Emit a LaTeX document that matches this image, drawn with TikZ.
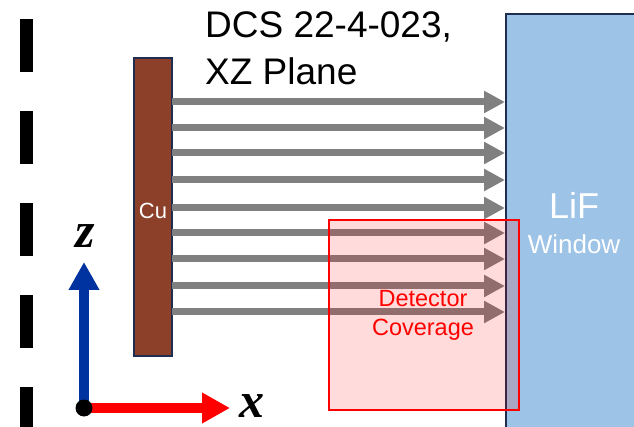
\documentclass[tikz,border=0pt]{standalone}
\usepackage{fontspec}
\setmainfont{Liberation Sans}
\newfontfamily\axfont{Liberation Serif}
\usetikzlibrary{arrows.meta}
\definecolor{cubrown}{RGB}{140,64,42}
\definecolor{navy}{RGB}{30,45,80}
\definecolor{lifblue}{RGB}{157,195,230}
\definecolor{raygray}{RGB}{128,128,128}
\definecolor{zblue}{RGB}{0,51,160}
\tikzset{
  ray/.style={draw=raygray, line width=7pt, -{Triangle[length=21pt,width=21pt]}},
  block/.style={draw=navy, line width=1.2pt, inner sep=0pt, outer sep=0pt},
  axisarrow/.style={line width=9.5pt, -{Triangle[length=28pt,width=29pt]}},
  axlabel/.style={font=\axfont\bfseries\itshape\fontsize{50}{50}\selectfont, inner sep=0pt},
}
\begin{document}
\begin{tikzpicture}[x=1pt,y=-1pt]
\useasboundingbox (0,0) rectangle (634,427);
\fill[white] (0,0) rectangle (634,427);
% dashed axis line
\draw[line width=13pt, dash pattern=on 53pt off 39pt] (26.5,19) -- (26.5,440);
% LiF window
\node[block, fill=lifblue, minimum width=134pt, minimum height=420pt, anchor=north west] (lif) at (506,14) {};
\node[text=white, font=\fontsize{36}{36}\selectfont] (liftxt) at (574,205) {LiF};
\node[text=white, font=\fontsize{26}{26}\selectfont] (wintxt) at (574,244) {Window};
% Cu block
\node[block, fill=cubrown, minimum width=38pt, minimum height=298pt, anchor=north west] (cu) at (134,58) {};
\node[text=white, font=\fontsize{22}{22}\selectfont] (cutxt) at (153,211) {Cu};
% rays
\foreach \i/\yy in {1/102,2/128,3/153,4/180,5/208,6/233,7/259,8/286,9/312}{
  \coordinate (s\i) at (172,\yy);
  \coordinate (e\i) at (505,\yy);
  \draw[ray] (s\i) -- (e\i);
}
% detector coverage
\node[draw=red, line width=2pt, fill=red, fill opacity=0.14, minimum width=190pt, minimum height=190pt, anchor=north west, inner sep=0pt] (det) at (328,219) {};
\node[text=red, align=center, font=\fontsize{23.5}{29}\selectfont] (dettxt) at (423,315) {Detector\\Coverage};
% title
\node[anchor=west, font=\fontsize{37}{37}\selectfont, inner sep=0pt] (t1) at (205,27) {DCS 22-4-023,};
\node[anchor=west, font=\fontsize{37}{37}\selectfont, inner sep=0pt] (t2) at (205,71) {XZ Plane};
% axes
\coordinate (o) at (84,408);
\coordinate (ztip) at (84,262);
\coordinate (xtip) at (230,408);
\draw[axisarrow, draw=zblue, fill=zblue] (o) -- (ztip);
\draw[axisarrow, draw=red, fill=red] (o) -- (xtip);
\fill[black] (o) circle [radius=8.5pt];
\node[axlabel] (zl) at (85,236) {z};
\node[axlabel] (xl) at (252,406) {x};
\end{tikzpicture}
\end{document}
